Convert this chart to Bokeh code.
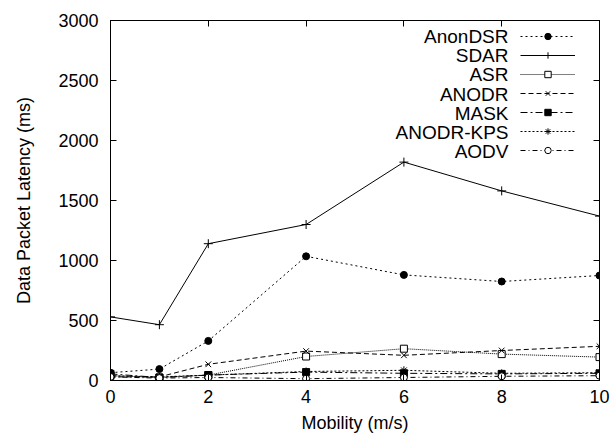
from bokeh.plotting import figure
from bokeh.models import (Range1d, LinearAxis, Legend, LegendItem, Label,
                          FixedTicker, CustomJSTickFormatter)
from bokeh.core.properties import value
from bokeh.embed import file_html
from bokeh.resources import INLINE

# ---- data ----
mobility = [0, 1, 2, 4, 6, 8, 10]
anondsr = [65, 95, 330, 1035, 880, 825, 875]
sdar = [530, 465, 1140, 1300, 1820, 1580, 1370]
asr = [40, 25, 45, 200, 265, 220, 195]
anodr = [30, 30, 135, 245, 210, 250, 285]
mask = [55, 25, 45, 70, 60, 55, 60]
anodr_kps = [40, 30, 45, 75, 85, 60, 65]
aodv = [30, 20, 25, 15, 25, 35, 40]

series_names = ["AnonDSR", "SDAR", "ASR", "ANODR", "MASK", "ANODR-KPS", "AODV"]
series_values = [anondsr, sdar, asr, anodr, mask, anodr_kps, aodv]
x_ticks = [0, 2, 4, 6, 8, 10]
y_ticks = [0, 500, 1000, 1500, 2000, 2500, 3000]

# ---- styles ----
styles = {
    "AnonDSR":   dict(dash="2 3", marker="circle", fill="black", size=7),
    "SDAR":      dict(dash="solid", marker="cross", fill=None, size=9),
    "ASR":       dict(dash="1 1", marker="square", fill="white", size=7),
    "ANODR":     dict(dash="5 3", marker="x", fill=None, size=8),
    "MASK":      dict(dash="7 3 2 3", marker="square", fill="black", size=7),
    "ANODR-KPS": dict(dash="2 2", marker="asterisk", fill=None, size=8),
    "AODV":      dict(dash="5 3 1 3", marker="circle", fill="white", size=7),
}

FONT = "Liberation Sans"
FS = "18px"

p = figure(width=613, height=439, output_backend="svg", toolbar_location=None,
           x_range=Range1d(0, 10), y_range=Range1d(0, 3000),
           min_border_left=110, min_border_right=14, min_border_top=20,
           min_border_bottom=59)
p.xgrid.visible = False
p.ygrid.visible = False
p.outline_line_color = "black"
p.outline_line_width = 1
p.background_fill_color = "white"
p.border_fill_color = "white"

for ax in (p.xaxis[0], p.yaxis[0]):
    ax.major_tick_in = 6
    ax.major_tick_out = 0
    ax.minor_tick_in = 0
    ax.minor_tick_out = 0
    ax.axis_line_color = "black"
    ax.major_tick_line_color = "black"
    ax.major_label_text_font = FONT
    ax.major_label_text_font_size = FS
    ax.major_label_text_color = "black"
    ax.axis_label_text_font = FONT
    ax.axis_label_text_font_size = FS
    ax.axis_label_text_font_style = "normal"
    ax.axis_label_text_color = "black"

p.xaxis[0].ticker = FixedTicker(ticks=x_ticks)
p.yaxis[0].ticker = FixedTicker(ticks=y_ticks)
p.xaxis[0].axis_label = "Mobility (m/s)"
p.yaxis[0].axis_label = "Data Packet Latency (ms)"
p.xaxis[0].major_label_standoff = 9
p.xaxis[0].axis_label_standoff = 7
p.yaxis[0].major_label_standoff = 12
p.yaxis[0].axis_label_standoff = 21

# mirror ticks
blank = CustomJSTickFormatter(code="return ''")
top_ax = LinearAxis(ticker=FixedTicker(ticks=x_ticks), formatter=blank)
right_ax = LinearAxis(ticker=FixedTicker(ticks=y_ticks), formatter=blank)
for ax in (top_ax, right_ax):
    ax.major_tick_in = 6
    ax.major_tick_out = 0
    ax.minor_tick_in = 0
    ax.minor_tick_out = 0
    ax.major_label_standoff = 0
    ax.major_label_text_font_size = "0px"
    ax.axis_line_color = "black"
p.add_layout(top_ax, "above")
p.add_layout(right_ax, "right")

items = []
for name, vals in zip(series_names, series_values):
    st = styles[name]
    ln = p.line(mobility, vals, line_color="black", line_width=1,
                line_dash=st["dash"])
    sc = p.scatter(mobility, vals, marker=st["marker"], size=st["size"],
                   line_color="black", line_width=1,
                   fill_color=st["fill"])
    items.append(LegendItem(label=value(" "), renderers=[ln, sc]))

legend = Legend(items=items, location=(410, 222), margin=0, padding=0,
                glyph_width=55, glyph_height=16, label_height=16,
                label_width=0, label_standoff=0, spacing=3,
                label_text_font_size="1px", border_line_color=None,
                background_fill_alpha=0)
p.add_layout(legend)

# legend texts (right-aligned, gnuplot style)
for i, name in enumerate(series_names):
    p.add_layout(Label(x=398, y=344 - 19.2 * i, x_units="screen", y_units="screen",
                       text=name, text_align="right", text_baseline="middle",
                       text_font=FONT, text_font_size="19px",
                       text_color="black"))

open("out.html", "w").write(file_html(p, INLINE))
